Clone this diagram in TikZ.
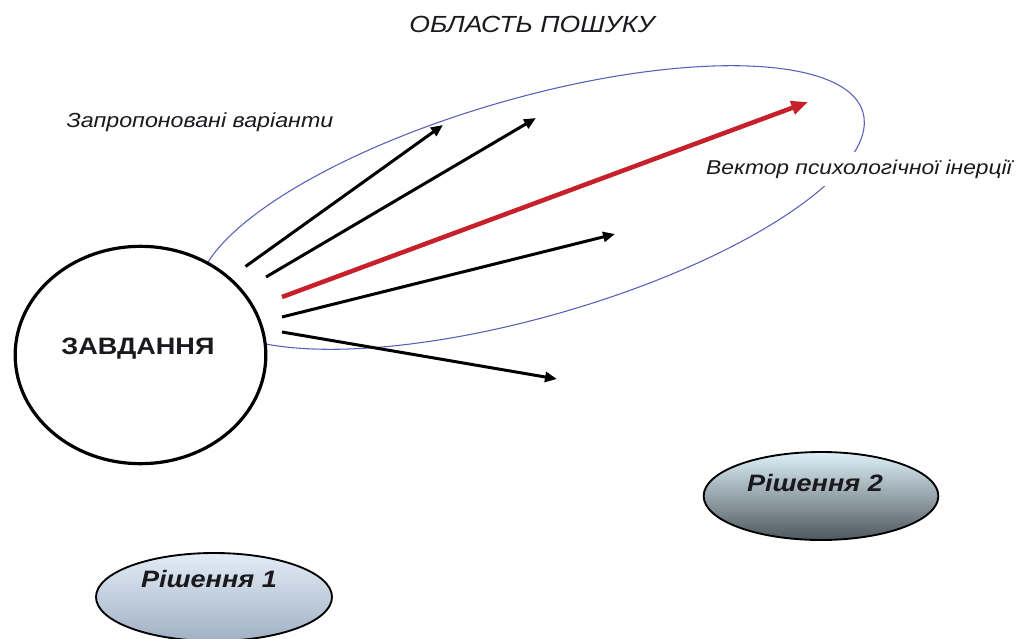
\documentclass[tikz,border=0pt]{standalone}
\usepackage{graphicx}
\usepackage{fontspec}
\setmainfont{Liberation Sans}
\usetikzlibrary{arrows.meta,shapes.geometric}

\definecolor{areablue}{RGB}{85,95,185}
\definecolor{inertred}{RGB}{200,32,42}
\definecolor{inktext}{RGB}{25,25,30}
\definecolor{solAtop}{RGB}{226,236,246}
\definecolor{solAbot}{RGB}{160,176,196}
\definecolor{solBtop}{RGB}{222,240,247}
\definecolor{solBbot}{RGB}{78,88,94}

% slightly widened lettering
\newcommand{\widetext}[1]{\scalebox{1.14}[1]{#1}}

\tikzset{
  variant/.style={line width=2.25pt, -{Triangle[length=9pt,width=7.5pt]}},
  inertia/.style={inertred, line width=3.4pt, -{Triangle[length=12.5pt,width=10pt]}},
  solution/.style={draw=black, line width=1.4pt, ellipse, inner sep=0pt,
                   minimum width=176pt, minimum height=66pt},
  caption/.style={anchor=base, inner sep=0pt, text=inktext},
}

\begin{document}
\begin{tikzpicture}[x=0.75pt,y=-0.75pt]
\useasboundingbox (0,0) rectangle (1018,639);

% search area
\node[draw=areablue, line width=0.8pt, ellipse, inner sep=0pt,
      minimum width=518pt, minimum height=164pt, rotate=16] (area) at (531,207.5) {};

% the task
\node[draw=black, fill=white, line width=2.4pt, ellipse, inner sep=0pt,
      minimum width=188pt, minimum height=163pt] (task) at (140.5,355) {};
\node[caption, font=\fontsize{17.8}{20}\selectfont\bfseries] (tasklabel) at (138,354) {\widetext{ЗАВДАННЯ}};

% solutions
\node[solution, top color=solBtop, bottom color=solBbot] (sol2) at (821,496) {};
\node[caption, font=\fontsize{17.8}{20}\selectfont\bfseries\itshape] (sol2label) at (815,491) {\widetext{Рішення 2}};
\node[solution, top color=solAtop, bottom color=solAbot, minimum width=177pt] (sol1) at (214,597) {};
\node[caption, font=\fontsize{17.8}{20}\selectfont\bfseries\itshape] (sol1label) at (209,587) {\widetext{Рішення 1}};

% arrow end points
\coordinate (a1s) at (245.5,266.5); \coordinate (a1e) at (443,125);
\coordinate (a2s) at (266,277);     \coordinate (a2e) at (536,118);
\coordinate (rs)  at (282,297);     \coordinate (re)  at (808,102);
\coordinate (a4s) at (282,317);     \coordinate (a4e) at (615,234);
\coordinate (a5s) at (282,332);     \coordinate (a5e) at (557,379);

\draw[variant] (a1s) -- (a1e);
\draw[variant] (a2s) -- (a2e);
\draw[variant] (a4s) -- (a4e);
\draw[variant] (a5s) -- (a5e);
\draw[inertia] (rs) -- (re);

% labels
\node[caption, font=\fontsize{17.5}{20}\selectfont\itshape] (title) at (532,32) {\widetext{ОБЛАСТЬ ПОШУКУ}};
\node[caption, font=\fontsize{15.3}{18}\selectfont\itshape] (proposed) at (200,127) {\widetext{Запропоновані варіанти}};
\node[caption, font=\fontsize{15}{18}\selectfont\itshape, fill=white,
      inner xsep=1pt, inner ysep=6pt] (vector) at (859,174) {\widetext{Вектор психологічної інерції}};
\end{tikzpicture}
\end{document}
